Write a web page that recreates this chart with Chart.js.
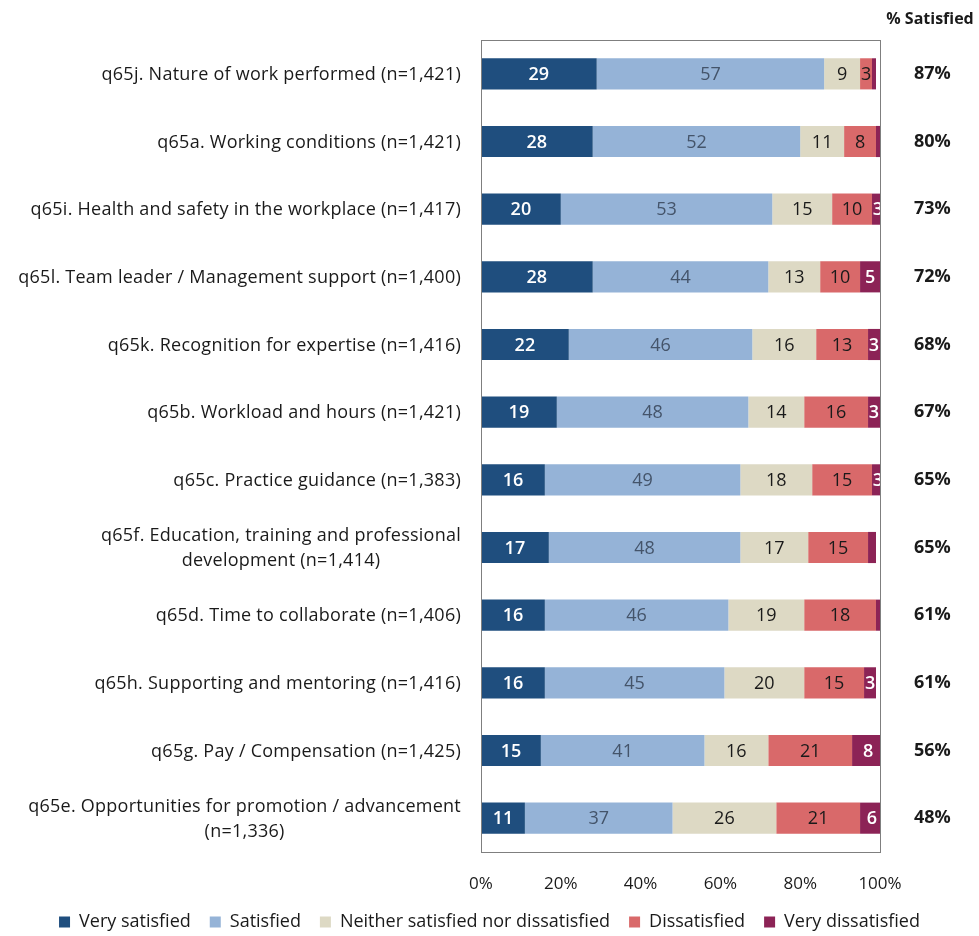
<!DOCTYPE html>
<html>
<head>
<meta charset="utf-8">
<script src="https://cdn.jsdelivr.net/npm/chart.js@4"></script>
<style>
  html, body { margin: 0; padding: 0; background: #ffffff; }
  #wrap { width: 979px; height: 936px; position: relative; }
</style>
</head>
<body>
<div id="wrap"><canvas id="chart"></canvas></div>
<script>
// Survey items (top to bottom)
const categories = [
  'q65j. Nature of work performed (n=1,421)',
  'q65a. Working conditions (n=1,421)',
  'q65i. Health and safety in the workplace (n=1,417)',
  'q65l. Team leader / Management support (n=1,400)',
  'q65k. Recognition for expertise (n=1,416)',
  'q65b. Workload and hours (n=1,421)',
  'q65c. Practice guidance (n=1,383)',
  ['q65f. Education, training and professional', 'development (n=1,414)'],
  'q65d. Time to collaborate (n=1,406)',
  'q65h. Supporting and mentoring (n=1,416)',
  'q65g. Pay / Compensation (n=1,425)',
  ['q65e. Opportunities for promotion / advancement', '(n=1,336)']
];

// Response shares (%)
const verySatisfied    = [29, 28, 20, 28, 22, 19, 16, 17, 16, 16, 15, 11];
const satisfied        = [57, 52, 53, 44, 46, 48, 49, 48, 46, 45, 41, 37];
const neutral          = [9, 11, 15, 13, 16, 14, 18, 17, 19, 20, 16, 26];
const dissatisfied     = [3, 8, 10, 10, 13, 16, 15, 15, 18, 15, 21, 21];
const veryDissatisfied = [1, 1, 3, 5, 3, 3, 3, 2, 2, 3, 8, 6];

// Combined "very satisfied" + "satisfied" share
const pctSatisfied = [87, 80, 73, 72, 68, 67, 65, 65, 61, 61, 56, 48];

const xTicks = ['0%', '20%', '40%', '60%', '80%', '100%'];
const seriesNames = ['Very satisfied', 'Satisfied', 'Neither satisfied nor dissatisfied', 'Dissatisfied', 'Very dissatisfied'];

const FONT = "'Open Sans', Lato, sans-serif";
const fills = ['#1f4e7e', '#95b3d7', '#ddd9c4', '#d9696a', '#8c2356'];
const labelColors = ['#ffffff', '#44546a', '#1a1a1a', '#1a1a1a', '#ffffff'];

// Values inside the bars (small slivers stay unlabelled)
const barLabels = {
  id: 'barLabels',
  afterDatasetsDraw(chart) {
    const ctx = chart.ctx;
    ctx.save();
    ctx.textAlign = 'center';
    ctx.textBaseline = 'middle';
    chart.data.datasets.forEach((ds, di) => {
      const meta = chart.getDatasetMeta(di);
      meta.data.forEach((bar, i) => {
        const v = ds.data[i];
        if (v < 3) return;
        const x = (bar.base + bar.x) / 2;
        ctx.font = (di === 0 || di === 4 ? '600 ' : '') + '18px ' + FONT;
        ctx.fillStyle = labelColors[di];
        ctx.fillText(String(v), x, bar.y + 1);
      });
    });
    ctx.restore();
  }
};

// Category labels: right-aligned block, wrapped lines centred within it
const categoryLabels = {
  id: 'categoryLabels',
  afterDraw(chart) {
    const { ctx, scales } = chart;
    const right = scales.y.right - 20;
    const lineH = 25;
    ctx.save();
    ctx.font = '18px ' + FONT;
    if ('letterSpacing' in ctx) ctx.letterSpacing = '0.25px';
    ctx.fillStyle = '#1a1a1a';
    ctx.textBaseline = 'middle';
    ctx.textAlign = 'center';
    categories.forEach((lab, i) => {
      const lines = Array.isArray(lab) ? lab : [lab];
      const w = Math.max(...lines.map(l => ctx.measureText(l).width));
      const cx = right - w / 2;
      const cy = scales.y.getPixelForValue(i);
      lines.forEach((l, k) => {
        ctx.fillText(l, cx, cy + (k - (lines.length - 1) / 2) * lineH + 1);
      });
    });
    ctx.restore();
  }
};

// Frame around the plot area and the column heading
const frame = {
  id: 'frame',
  afterDraw(chart) {
    const { ctx, chartArea: a } = chart;
    ctx.save();
    ctx.strokeStyle = '#7f7f7f';
    ctx.lineWidth = 1;
    ctx.strokeRect(a.left + 0.5, a.top + 0.5, a.right - a.left, a.bottom - a.top);
    ctx.fillStyle = '#1a1a1a';
    ctx.textAlign = 'center';
    ctx.textBaseline = 'middle';
    ctx.font = 'bold 16px ' + FONT;
    ctx.fillText('% Satisfied', a.right + 50, 19);
    ctx.restore();
  }
};

const chart = new Chart(document.getElementById('chart'), {
  type: 'bar',
  data: {
    labels: categories,
    datasets: [verySatisfied, satisfied, neutral, dissatisfied, veryDissatisfied].map((d, k) => ({
      label: seriesNames[k],
      data: d,
      backgroundColor: fills[k],
      borderWidth: 0,
      categoryPercentage: 1,
      barPercentage: 0.46
    }))
  },
  options: {
    indexAxis: 'y',
    responsive: true,
    maintainAspectRatio: false,
    animation: false,
    layout: { padding: { top: 40, right: 0, left: 0, bottom: -5 } },
    scales: {
      x: {
        stacked: true,
        min: 0,
        max: 100,
        grid: { display: false },
        border: { display: false },
        ticks: {
          stepSize: 20,
          color: '#1a1a1a',
          font: { family: FONT, size: 17 },
          padding: 14,
          callback: (v) => xTicks[v / 20]
        },
        afterFit(scale) { scale.height = 42; }
      },
      y: {
        stacked: true,
        grid: { display: false },
        border: { display: false },
        ticks: { display: false },
        afterFit(scale) { scale.width = 481; }
      },
      pct: {
        type: 'category',
        position: 'right',
        offset: true,
        labels: pctSatisfied.map(p => p + '%'),
        grid: { display: false, drawTicks: true, tickLength: 34 },
        border: { display: false },
        ticks: {
          color: '#1a1a1a',
          font: { family: FONT, size: 18, weight: 'bold' },
          crossAlign: 'near',
          padding: 0
        },
        afterFit(scale) { scale.width = 99; }
      }
    },
    plugins: {
      tooltip: { enabled: false },
      legend: {
        position: 'bottom',
        labels: {
          color: '#1a1a1a',
          font: { family: FONT, size: 18 },
          boxWidth: 11,
          boxHeight: 11,
          padding: 19
        }
      }
    }
  },
  plugins: [barLabels, categoryLabels, frame]
});
</script>
</body>
</html>
